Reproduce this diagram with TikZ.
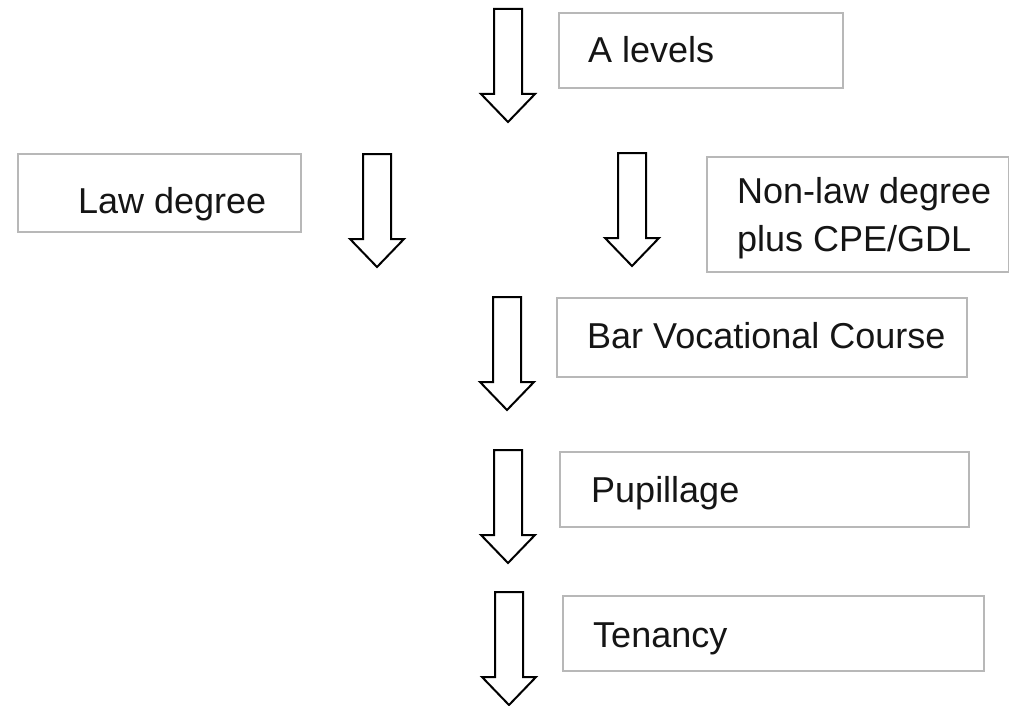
\documentclass[tikz,border=0pt]{standalone}
\usepackage{fontspec}
\setmainfont{Liberation Sans}
\definecolor{boxgray}{HTML}{B8B8B8}
\definecolor{txt}{HTML}{151515}
\tikzset{
  box/.style={draw=boxgray, line width=1.6pt, fill=white, rectangle, inner sep=0pt, anchor=north west},
  lbl/.style={anchor=base west, inner sep=0pt, text=txt, font=\fontsize{36}{48}\selectfont},
  blockarrow/.pic={
    \draw[line width=2pt, fill=white, line join=miter]
      (-14,0) -- (14,0) -- (14,85) -- (27,85) -- (0,113) -- (-27,85) -- (-14,85) -- cycle;
  }
}
\begin{document}
\begin{tikzpicture}[x=1pt, y=-1pt]
  \useasboundingbox (0,0) rectangle (1009,706);
  % boxes
  \node[box, minimum width=284pt, minimum height=75pt]  (alev)   at (558,12)  {};
  \node[box, minimum width=283pt, minimum height=78pt]  (law)    at (17,153)  {};
  \node[box, minimum width=302pt, minimum height=115pt] (nonlaw) at (706,156) {};
  \node[box, minimum width=410pt, minimum height=79pt]  (bvc)    at (556,297) {};
  \node[box, minimum width=409pt, minimum height=75pt]  (pup)    at (559,451) {};
  \node[box, minimum width=421pt, minimum height=75pt]  (ten)    at (562,595) {};
  % labels
  \node[lbl] (alevT)  at (588,63)  {A levels};
  \node[lbl] (lawT)   at (78,213)  {Law degree};
  \node[lbl] (nonT1)  at (737,203) {Non-law degree};
  \node[lbl] (nonT2)  at (737,251) {plus CPE/GDL};
  \node[lbl] (bvcT)   at (587,348) {Bar Vocational Course};
  \node[lbl] (pupT)   at (591,502) {Pupillage};
  \node[lbl] (tenT)   at (593,647) {Tenancy};
  % block arrows
  \pic at (508,9)   {blockarrow};
  \pic at (377,154) {blockarrow};
  \pic at (632,153) {blockarrow};
  \pic at (507,297) {blockarrow};
  \pic at (508,450) {blockarrow};
  \pic at (509,592) {blockarrow};
\end{tikzpicture}
\end{document}
